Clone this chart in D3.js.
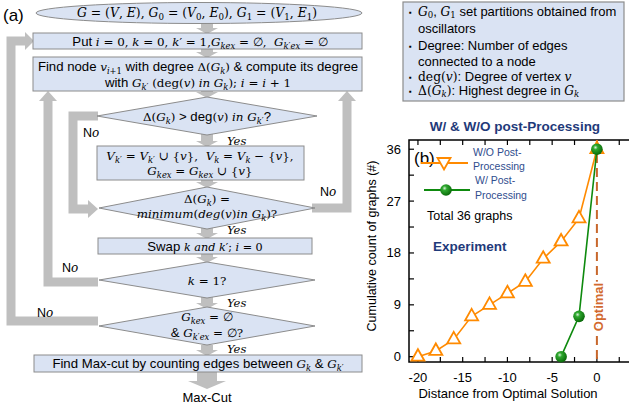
<!DOCTYPE html>
<html>
<head>
<meta charset="utf-8">
<script src="https://cdn.jsdelivr.net/npm/d3@7"></script>
<style>
  body { margin: 0; background: #fff; }
  text { white-space: pre; }
</style>
</head>
<body>
<svg id="fig" width="629" height="408"></svg>
<script>
// ---- data for panel (b) ----
const distWO = [-20, -18, -16, -14, -12, -10, -8, -6, -4, -2, 0];
const countWO = [0, 1, 3, 7, 9, 11, 13, 17, 20, 24, 36];
const distW = [-4, -2, 0];
const countW = [0, 7, 36];
const xTickLabels = [-20, -15, -10, -5, 0];
const yTickLabels = [0, 9, 18, 27, 36];

// ---- texts for panel (a) ----
const startText = "$G = (V, E), G_0 = (V_0, E_0), G_1 = (V_1, E_1)$";
const initText = "Put $i = 0, k = 0, k′ = 1,G_{kex} = ∅,  G_{k′ex} = ∅$";
const findText = ["Find node $v_{i+1}$ with degree $Δ(G_k)$ & compute its degree",
                  "with $G_{k′}$ $(\\u{deg}(v)$ $in$ $G_k); i = i + 1$"];
const cond1Text = "$Δ(G_k)$ > deg$(v)$ $in G_{k′}$?";
const moveText = ["$V_{k′} = V_{k′} ∪ \\{v\\},  V_k = V_k − \\{v\\},$",
                  "$G_{kex} = G_{kex} ∪ \\{v\\}$"];
const cond2Text = ["$Δ(G_k) =$", "$minimum(deg(v)in G_k)?$"];
const swapText = "Swap $k and k′; i = 0$";
const cond3Text = "$k = 1?$";
const cond4Text = ["$G_{kex} = ∅$", "& $G_{k′ex} = ∅?$"];
const cutText = "Find Max-cut by counting edges between $G_k$ & $G_{k′}$";
const infoLines = [
  ["▪", "$G_0$, $G_1$ set partitions obtained from"],
  ["", "oscillators"],
  ["▪", "Degree: Number of edges"],
  ["", "connected to a node"],
  ["▪", "$\\u{deg}(v)$: Degree of vertex $v$"],
  ["▪", "$Δ(G_k)$: Highest degree in $G_k$"]
];

const SANS = "'Liberation Sans', Arial, sans-serif";
const SERIF = "'DejaVu Serif', 'Liberation Serif', serif";
const GRAY = "#BFBFBF";
const FILL = "#DAE3F3";
const EDGE = "#8C8C8C";
const NAVY = "#1F3A7A";

const svg = d3.select("#fig");

// small parser: plain text is sans, $...$ is math (letters italic, _ subscripts)
function parseRich(str) {
  const runs = [];
  function push(t, style, level) {
    const last = runs[runs.length - 1];
    if (last && last.style === style && last.level === level) last.t += t;
    else runs.push({ t, style, level });
  }
  function readGroup(s, j) {
    if (s[j] === "{") {
      let depth = 1, k = j + 1;
      while (k < s.length && depth > 0) {
        if (s[k] === "{") depth++;
        else if (s[k] === "}") depth--;
        k++;
      }
      return [s.slice(j + 1, k - 1), k];
    }
    return [s[j], j + 1];
  }
  function parseMath(s, level) {
    let j = 0;
    while (j < s.length) {
      const c = s[j];
      if (c === "_") {
        const [grp, k] = readGroup(s, j + 1);
        parseMath(grp, level + 1);
        j = k;
      } else if (c === "\\" && s[j + 1] === "u") {
        const [grp, k] = readGroup(s, j + 2);
        push(grp, "r", level);
        j = k;
      } else if (c === "\\") {
        push(s[j + 1], "r", level);
        j += 2;
      } else {
        push(c, /[A-Za-z]/.test(c) ? "i" : "r", level);
        j++;
      }
    }
  }
  str.split("$").forEach((p, idx) => {
    if (idx % 2) parseMath(p, 0);
    else if (p) push(p, "n", 0);
  });
  return runs;
}

function drawRich(g, str, x, y, size, mathSize, anchor = "middle", subShift = 0.26) {
  const t = g.append("text")
    .attr("x", x).attr("y", y)
    .attr("text-anchor", anchor)
    .attr("fill", "#000");
  let shift = 0;
  parseRich(str).forEach(r => {
    const target = r.level === 0 ? 0 : mathSize * subShift;
    const scale = r.level === 0 ? 1 : 0.7;
    const ts = t.append("tspan").attr("dy", target - shift).text(r.t);
    shift = target;
    if (r.style === "n") {
      ts.attr("font-family", SANS).attr("font-size", size * scale);
    } else {
      ts.attr("font-family", SERIF).attr("font-size", mathSize * scale)
        .attr("font-style", r.style === "i" ? "italic" : "normal");
    }
  });
  return t;
}

// ================= panel (a) =================
const fa = svg.append("g");
const cx = 207;
const FS = 13.2;   // sans
const MS = 11.9;   // math

function downArrow(x, y0, y1, sw = 12, hw = 22, hh = 6) {
  fa.append("path")
    .attr("d", `M${x - sw / 2},${y0}L${x + sw / 2},${y0}L${x + sw / 2},${y1 - hh}L${x + hw / 2},${y1 - hh}` +
               `L${x},${y1}L${x - hw / 2},${y1 - hh}L${x - sw / 2},${y1 - hh}Z`)
    .attr("fill", GRAY);
}
function loop(points) {
  fa.append("path")
    .attr("d", d3.line()(points))
    .attr("fill", "none").attr("stroke", GRAY)
    .attr("stroke-width", 9).attr("stroke-linejoin", "miter");
}
function tri(points) {
  fa.append("path").attr("d", d3.line()(points) + "Z").attr("fill", GRAY);
}
function box(x0, y0, x1, y1) {
  fa.append("rect").attr("x", x0).attr("y", y0).attr("width", x1 - x0).attr("height", y1 - y0)
    .attr("fill", FILL).attr("stroke", EDGE).attr("stroke-width", 1);
}
function diamond(x, y, hw, hh) {
  fa.append("path")
    .attr("d", `M${x - hw},${y}L${x},${y - hh}L${x + hw},${y}L${x},${y + hh}Z`)
    .attr("fill", FILL).attr("stroke", EDGE).attr("stroke-width", 1);
}
function noLabel(x, y) {
  const t = fa.append("text").attr("x", x).attr("y", y);
  t.append("tspan").attr("font-family", SANS).attr("font-size", 12.5).text("N");
  t.append("tspan").attr("font-family", SERIF).attr("font-style", "italic").attr("font-size", 12).text("o");
}
function yesLabel(x, y) {
  fa.append("text").attr("x", x).attr("y", y)
    .attr("font-family", SERIF).attr("font-style", "italic").attr("font-size", 11.5).text("Yes");
}

// feedback loops
loop([[98, 321], [11, 321], [11, 41], [26, 41]]);
tri([[25, 32], [34, 41], [25, 50]]);
loop([[98, 282], [48, 282], [48, 100]]);
tri([[39, 101], [48, 91], [57, 101]]);
loop([[98, 116], [73, 116], [73, 209], [89, 209]]);
tri([[88, 200], [98, 209], [88, 218]]);
loop([[312, 208], [347, 208], [347, 100]]);
tri([[338, 101], [347, 91], [356, 101]]);

// straight arrows
[[23, 34], [49, 58], [91, 98], [134, 147], [180, 188], [228, 239], [254, 263], [297, 309], [345, 356]]
  .forEach(([a, b]) => downArrow(cx, a, b));
downArrow(cx, 372, 389, 20, 38, 8);

// shapes
fa.append("ellipse").attr("cx", 199).attr("cy", 13).attr("rx", 163).attr("ry", 10.5)
  .attr("fill", FILL).attr("stroke", EDGE).attr("stroke-width", 1);
box(33, 33, 362, 49);
box(33, 57, 362, 91);
diamond(cx, 116, 110, 19);
box(97, 146, 304, 180);
diamond(cx, 208, 108, 21);
box(98, 238, 312, 254);
diamond(cx, 280, 108, 18);
diamond(cx, 326, 108, 19);
box(34, 355, 362, 372);

// texts
fa.append("text").attr("x", 3).attr("y", 21).attr("font-family", SANS).attr("font-size", 17).text("(a)");
drawRich(fa, startText, 197, 17, FS, 12.4);
drawRich(fa, initText, 200, 45.5, FS, MS);
drawRich(fa, findText[0], 198, 71, FS, MS);
drawRich(fa, findText[1], 198, 87, FS, MS);
drawRich(fa, cond1Text, cx, 121, FS, MS);
drawRich(fa, moveText[0], 200, 160, FS, MS);
drawRich(fa, moveText[1], 200, 175, FS, MS);
drawRich(fa, cond2Text[0], cx, 203, FS, MS);
drawRich(fa, cond2Text[1], cx, 218, FS, MS);
drawRich(fa, swapText, 205, 250.5, FS, 11.2);
drawRich(fa, cond3Text, cx, 285, FS, MS);
drawRich(fa, cond4Text[0], cx, 321, FS, MS);
drawRich(fa, cond4Text[1], cx, 337, FS, MS);
drawRich(fa, cutText, 198, 368, FS, MS);
fa.append("text").attr("x", cx).attr("y", 402).attr("text-anchor", "middle")
  .attr("font-family", SANS).attr("font-size", 13).text("Max-Cut");

yesLabel(227, 145);
yesLabel(227, 234);
yesLabel(227, 307);
yesLabel(227, 353);
noLabel(83, 137);
noLabel(320, 196);
noLabel(62, 272);
noLabel(37, 317);

// ================= info box =================
const ib = svg.append("g");
ib.append("rect").attr("x", 403).attr("y", 2).attr("width", 221).attr("height", 99)
  .attr("fill", FILL).attr("stroke", EDGE).attr("stroke-width", 1.2);
const infoBase = [16, 32.5, 50, 66, 81, 95];
infoLines.forEach(([bullet, txt], i) => {
  if (bullet) ib.append("text").attr("x", 409).attr("y", infoBase[i] - 1)
    .attr("font-family", SANS).attr("font-size", 8).text(bullet);
  drawRich(ib, txt, 418, infoBase[i], 13, 12.3, "start", 0.2);
});

// ================= panel (b) =================
const fb = svg.append("g");
const pL = 409, pR = 630, pT = 140, pB = 362;
const x = d3.scaleLinear().domain([-21.0, 3.7]).range([pL, pR]);
const y = d3.scaleLinear().domain([-0.92, 37.6]).range([pB, pT]);

const defs = svg.append("defs");
const grad = defs.append("radialGradient").attr("id", "ball")
  .attr("cx", "38%").attr("cy", "35%").attr("r", "65%");
grad.append("stop").attr("offset", "0%").attr("stop-color", "#d8f0d8");
grad.append("stop").attr("offset", "30%").attr("stop-color", "#2ea82e");
grad.append("stop").attr("offset", "100%").attr("stop-color", "#0a6a0a");

// axes frame
fb.append("path").attr("d", `M${pR},${pT}L${pL},${pT}L${pL},${pB}L${pR},${pB}`)
  .attr("fill", "none").attr("stroke", "#000").attr("stroke-width", 1.5);

const xMinor = d3.range(-20, 3.5, 2.5);
fb.selectAll(".xtb").data(xMinor).join("line")
  .attr("x1", d => x(d)).attr("x2", d => x(d)).attr("y1", pB).attr("y2", pB - 5)
  .attr("stroke", "#000").attr("stroke-width", 1.2);
fb.selectAll(".xtt").data(xMinor).join("line")
  .attr("x1", d => x(d)).attr("x2", d => x(d)).attr("y1", pT).attr("y2", pT + 5)
  .attr("stroke", "#000").attr("stroke-width", 1.2);
const yMinor = d3.range(0, 37, 4.5);
fb.selectAll(".ytl").data(yMinor).join("line")
  .attr("x1", pL).attr("x2", pL + 5).attr("y1", d => y(d)).attr("y2", d => y(d))
  .attr("stroke", "#000").attr("stroke-width", 1.2);

fb.selectAll(".xl").data(xTickLabels).join("text")
  .attr("x", d => x(d)).attr("y", 382).attr("text-anchor", "middle")
  .attr("font-family", SANS).attr("font-size", 13).text(d => d);
fb.selectAll(".yl").data(yTickLabels).join("text")
  .attr("x", 401).attr("y", d => y(d) + 4.5).attr("text-anchor", "end")
  .attr("font-family", SANS).attr("font-size", 13).text(d => d);

fb.append("text").attr("x", 508).attr("y", 398).attr("text-anchor", "middle")
  .attr("font-family", SANS).attr("font-size", 13).text("Distance from Optimal Solution");
fb.append("text").attr("transform", "translate(376,246) rotate(-90)").attr("text-anchor", "middle")
  .attr("font-family", SANS).attr("font-size", 12.5).text("Cumulative count of graphs (#)");
fb.append("text").attr("x", 515).attr("y", 131).attr("text-anchor", "middle")
  .attr("font-family", SANS).attr("font-weight", "bold").attr("font-size", 13.5)
  .attr("fill", NAVY).text("W/ & W/O post-Processing");

// optimal marker
fb.append("line").attr("x1", x(0)).attr("x2", x(0)).attr("y1", pT).attr("y2", pB)
  .attr("stroke", "#C8672C").attr("stroke-width", 2).attr("stroke-dasharray", "9,5");
fb.append("text").attr("transform", `translate(${x(0) + 6},307) rotate(-90)`).attr("text-anchor", "middle")
  .attr("font-family", SANS).attr("font-weight", "bold").attr("font-size", 13)
  .attr("fill", "#D2692E").attr("stroke", "#fff").attr("stroke-width", 4)
  .attr("paint-order", "stroke").text("Optimal");

const triUp = "M0,-7.5L6.5,4L-6.5,4Z";
const triDown = "M0,7.5L6.5,-4L-6.5,-4Z";
const ORANGE = "#FF8A00";
const GREEN = "#0E8A0E";

const wo = distWO.map((d, i) => [d, countWO[i]]);
const w = distW.map((d, i) => [d, countW[i]]);
const line = d3.line().x(d => x(d[0])).y(d => y(d[1]));

fb.append("path").attr("d", line(wo)).attr("fill", "none").attr("stroke", ORANGE).attr("stroke-width", 1.6);
fb.selectAll(".tri").data(wo).join("path")
  .attr("d", triUp).attr("transform", d => `translate(${x(d[0])},${y(d[1])})`)
  .attr("fill", "#fff").attr("stroke", ORANGE).attr("stroke-width", 1.8);
fb.append("path").attr("d", line(w)).attr("fill", "none").attr("stroke", GREEN).attr("stroke-width", 1.6);
fb.selectAll(".ball").data(w).join("circle")
  .attr("cx", d => x(d[0])).attr("cy", d => y(d[1])).attr("r", 5.8)
  .attr("fill", "url(#ball)");

// legend
fb.append("text").attr("x", 414).attr("y", 164).attr("font-family", SANS).attr("font-size", 17).text("(b)");
fb.append("line").attr("x1", 421).attr("x2", 468).attr("y1", 163).attr("y2", 163)
  .attr("stroke", ORANGE).attr("stroke-width", 1.8);
fb.append("path").attr("d", triDown).attr("transform", "translate(444,162)")
  .attr("fill", "#fff").attr("stroke", ORANGE).attr("stroke-width", 1.8);
fb.append("line").attr("x1", 424).attr("x2", 470).attr("y1", 190).attr("y2", 190)
  .attr("stroke", GREEN).attr("stroke-width", 1.8);
fb.append("circle").attr("cx", 446).attr("cy", 190).attr("r", 5.8).attr("fill", "url(#ball)");
[["W/O Post-", 473, 156], ["Processing", 473, 170], ["W/ Post-", 475, 184], ["Processing", 475, 199]]
  .forEach(([t, tx, ty]) => fb.append("text").attr("x", tx).attr("y", ty)
    .attr("font-family", SANS).attr("font-size", 10.5).attr("fill", "#2F4D8E").text(t));
fb.append("text").attr("x", 427).attr("y", 220).attr("font-family", SANS).attr("font-size", 12.5).text("Total 36 graphs");
fb.append("text").attr("x", 433).attr("y", 251).attr("font-family", SANS).attr("font-weight", "bold")
  .attr("font-size", 13.5).attr("fill", NAVY).text("Experiment");
</script>
</body>
</html>
